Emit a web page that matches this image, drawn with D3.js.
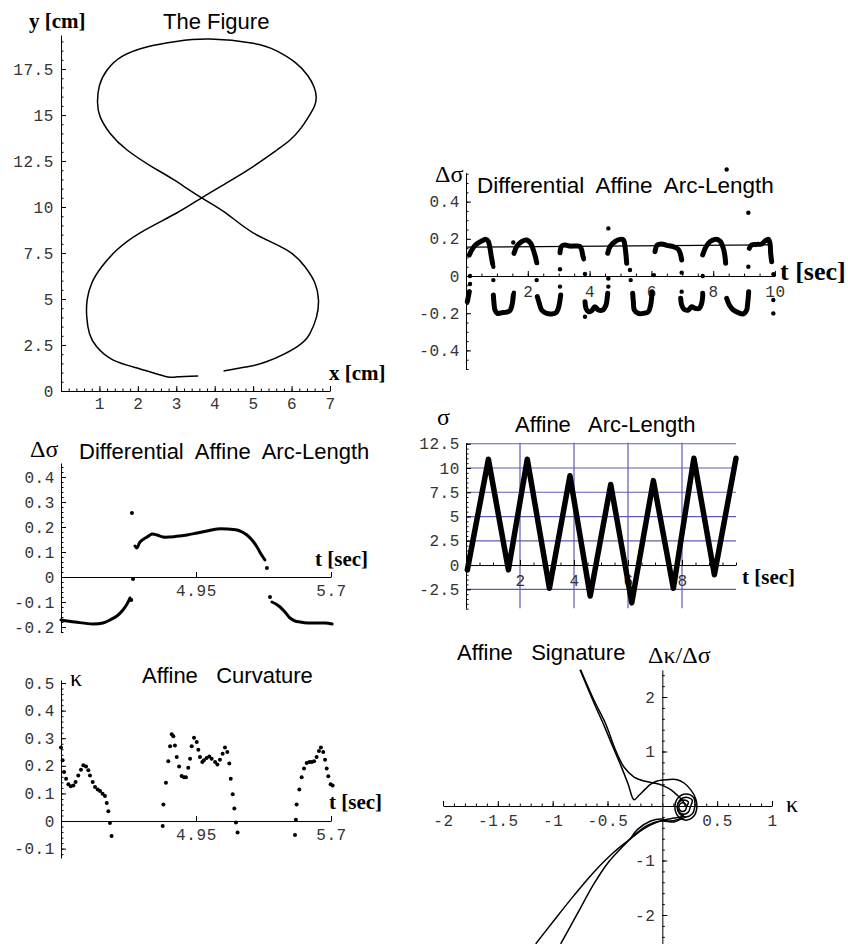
<!DOCTYPE html>
<html>
<head>
<meta charset="utf-8">
<script src="https://cdn.jsdelivr.net/npm/d3@7"></script>
<style>
  body { margin: 0; background: #fff; }
  svg { display: block; }
  .tick text { font-family: "Courier New", "Liberation Mono", monospace; font-size: 16px; letter-spacing: 0.6px; fill: #333; }
  .title { font-family: "Liberation Sans", Arial, sans-serif; font-size: 22px; white-space: pre; fill: #000; }
  .alabel { font-family: "Liberation Serif", "Times New Roman", serif; font-size: 21px; font-weight: bold; fill: #000; }
  .greek { font-family: "Liberation Serif", "Times New Roman", serif; font-size: 24px; fill: #000; }
</style>
</head>
<body>
<svg id="chart" width="848" height="944"></svg>
<script>
// ---------- The Figure: traced pen path (x, y in cm) ----------
const figurePath = [
  [3.57,0.82],[3.02,0.77],[2.75,0.78],[2.06,1.2],[1.36,1.68],[0.93,2.4],[0.74,3.13],[0.67,4.03],
  [0.68,4.95],[0.8,5.86],[1.06,6.75],[1.45,7.66],[2.06,8.6],[3.0,9.66],[3.66,10.5],[4.3,11.3],
  [5.0,12.2],[5.62,13.1],[5.96,13.64],[6.25,14.3],[6.47,15.0],[6.6,15.5],[6.64,16.0],[6.58,16.55],
  [6.42,17.15],[6.1,17.85],[5.6,18.5],[5.0,18.9],[3.88,19.13],[3.0,19.0],[2.23,18.7],[1.6,18.2],
  [1.2,17.45],[1.0,16.6],[0.95,15.7],[1.02,14.9],[1.28,14.0],[1.72,13.1],[2.36,12.2],[2.92,11.5],
  [3.66,10.5],[4.3,9.66],[5.0,8.6],[5.88,7.66],[6.35,6.75],[6.61,5.86],[6.7,4.95],[6.65,4.03],
  [6.48,3.13],[6.14,2.4],[5.36,1.6],[4.8,1.3],[4.23,1.09]
];
const figXTicks = [1,2,3,4,5,6,7];
const figYTicks = [0,2.5,5,7.5,10,12.5,15,17.5];

// ---------- Differential affine arc-length over the full recording (t sec, Δσ) ----------
const dsRunsUpper = [
  [[0.108,0.113],[0.216,0.149],[0.345,0.172],[0.507,0.188],[0.647,0.197],[0.723,0.185],[0.777,0.149],[0.82,0.104],[0.863,0.065]],
  [[1.553,0.122],[1.64,0.158],[1.80,0.185],[1.963,0.194],[2.093,0.176],[2.179,0.14],[2.244,0.104],[2.287,0.072]],
  [[3.042,0.125],[3.096,0.161],[3.204,0.167],[3.366,0.161],[3.527,0.161],[3.689,0.158],[3.743,0.14],[3.776,0.113],[3.797,0.1]],
  [[4.585,0.122],[4.66,0.158],[4.822,0.185],[4.984,0.197],[5.092,0.194],[5.146,0.158],[5.178,0.113],[5.2,0.068]],
  [[6.117,0.131],[6.192,0.167],[6.332,0.172],[6.494,0.165],[6.71,0.158],[6.872,0.143],[6.947,0.113],[6.98,0.086]],
  [[7.659,0.113],[7.767,0.158],[7.896,0.185],[8.058,0.197],[8.22,0.188],[8.328,0.149],[8.382,0.104],[8.403,0.068]],
  [[9.169,0.149],[9.245,0.167],[9.407,0.17],[9.568,0.172],[9.676,0.188],[9.784,0.197],[9.838,0.176],[9.86,0.122],[9.892,0.077]]
];
const dsRunsLower = [
  [[0.043,-0.138],[0.076,-0.111],[0.108,-0.084]],
  [[0.885,-0.102],[0.906,-0.147],[0.939,-0.183],[1.014,-0.201],[1.154,-0.197],[1.316,-0.194],[1.424,-0.186],[1.489,-0.156],[1.532,-0.102]],
  [[2.308,-0.111],[2.373,-0.147],[2.449,-0.183],[2.611,-0.201],[2.772,-0.204],[2.913,-0.197],[2.988,-0.174],[3.042,-0.129],[3.064,-0.102]],
  [[3.851,-0.138],[3.883,-0.174],[3.959,-0.192],[4.067,-0.186],[4.175,-0.165],[4.283,-0.183],[4.423,-0.183],[4.531,-0.156],[4.574,-0.111],[4.585,-0.093]],
  [[5.394,-0.093],[5.416,-0.138],[5.448,-0.183],[5.577,-0.201],[5.739,-0.201],[5.901,-0.192],[5.977,-0.156],[6.009,-0.111],[6.02,-0.084]],
  [[6.947,-0.12],[6.98,-0.156],[7.055,-0.179],[7.195,-0.183],[7.303,-0.165],[7.411,-0.174],[7.551,-0.174],[7.627,-0.147],[7.659,-0.111],[7.66,-0.093]],
  [[8.436,-0.12],[8.522,-0.156],[8.652,-0.183],[8.813,-0.197],[8.975,-0.204],[9.083,-0.183],[9.115,-0.147],[9.137,-0.111],[9.148,-0.084]]
];
const dsDots = [
  [0.885,0.05],[1.53,0.18],[2.3,0.07],[3.042,0.036],[3.85,0.011],[3.81,0.09],[4.606,0.256],[5.307,0.032],
  [4.606,-0.013],[6.98,0.018],[6.08,0.005],[8.436,0.573],[7.66,0.0],[9.137,0.34],[9.137,0.05],[0.13,-0.043],
  [0.13,0.0],[0.885,-0.022],[2.287,-0.022],[3.042,-0.057],[3.851,-0.219],[4.606,-0.057],[5.33,-0.022],
  [6.98,-0.084],[9.946,-0.129],[9.946,-0.201],[9.95,0.01],[1.55,-0.09]
];
const dsMeanT = [0, 9.9];
const dsMeanV = [0.155, 0.168];
const dsXTicks = [2,4,6,8,10];
const dsYTicks = [-0.4,-0.2,0,0.2,0.4];

// ---------- Differential affine arc-length, one stroke (t sec, Δσ) ----------
const daRunLeft = [[4.2,-0.172],[4.278,-0.18],[4.378,-0.188],[4.433,-0.184],[4.472,-0.172],[4.511,-0.156],[4.544,-0.132],[4.567,-0.108],[4.583,-0.084]];
const daRunMid = [[4.611,0.124],[4.622,0.116],[4.639,0.14],[4.678,0.16],[4.706,0.172],[4.733,0.168],[4.767,0.16],[4.806,0.16],[4.861,0.164],
  [4.9,0.168],[4.956,0.176],[5.011,0.184],[5.067,0.192],[5.122,0.192],[5.178,0.188],[5.206,0.18],[5.233,0.168],[5.261,0.148],
  [5.289,0.12],[5.311,0.092],[5.333,0.068]];
const daRunRight = [[5.372,-0.1],[5.394,-0.108],[5.417,-0.12],[5.444,-0.14],[5.472,-0.164],[5.5,-0.176],[5.528,-0.18],[5.572,-0.184],[5.622,-0.184],[5.667,-0.184],[5.706,-0.188]];
const daDots = [[4.6,-0.008],[4.594,0.256],[5.344,0.036],[5.361,-0.08],[4.59,-0.092]];
const daXTicks = [4.95,5.7];
const daYTicks = [-0.2,-0.1,0,0.1,0.2,0.3,0.4];

// ---------- Affine arc-length (t sec, σ) ----------
const sigmaT = [0.05,0.83,1.57,2.27,3.09,3.85,4.6,5.36,6.14,6.94,7.68,8.44,9.2,10.0];
const sigmaV = [-0.5,10.9,-0.5,10.9,-2.4,9.2,-3.2,8.3,-3.9,8.7,-2.4,11.0,-1.0,11.0];
const sigmaXTicks = [2,4,6,8];
const sigmaYTicks = [-2.5,0,2.5,5,7.5,10,12.5];
const sigmaGridX = [2,4,6,8];
const sigmaGridY = [-2.5,2.5,5,7.5,10,12.5];

// ---------- Affine curvature (t sec, κ) ----------
const curvPts = [
  [4.2,0.266],[4.209,0.22],[4.217,0.178],[4.228,0.153],[4.241,0.133],[4.254,0.126],[4.269,0.129],[4.281,0.141],
  [4.296,0.165],[4.311,0.186],[4.324,0.202],[4.339,0.198],[4.352,0.184],[4.361,0.165],[4.376,0.141],[4.389,0.123],
  [4.404,0.114],[4.417,0.109],[4.431,0.099],[4.444,0.091],[4.454,0.065],[4.463,0.035],[4.472,-0.007],[4.481,-0.054],
  [4.765,-0.018],[4.769,0.06],[4.783,0.139],[4.796,0.217],[4.806,0.271],[4.815,0.314],[4.824,0.307],[4.833,0.274],
  [4.843,0.232],[4.856,0.198],[4.87,0.163],[4.883,0.159],[4.894,0.159],[4.907,0.193],[4.917,0.226],[4.926,0.271],
  [4.939,0.302],[4.954,0.286],[4.963,0.258],[4.972,0.232],[4.985,0.214],[4.994,0.22],[5.009,0.228],[5.024,0.234],
  [5.037,0.226],[5.056,0.214],[5.069,0.205],[5.083,0.222],[5.098,0.244],[5.111,0.266],[5.124,0.25],[5.135,0.208],
  [5.143,0.153],[5.154,0.097],[5.163,0.045],[5.172,-0.005],[5.181,-0.042],
  [5.5,-0.051],[5.505,0.005],[5.509,0.06],[5.524,0.114],[5.537,0.159],[5.55,0.19],[5.565,0.21],[5.58,0.214],
  [5.593,0.214],[5.606,0.217],[5.62,0.232],[5.633,0.254],[5.644,0.266],[5.657,0.25],[5.667,0.222],[5.676,0.19],
  [5.685,0.162],[5.698,0.133],[5.709,0.129]
];
const curvXTicks = [4.95,5.7];
const curvYTicks = [-0.1,0,0.1,0.2,0.3,0.4,0.5];

// ---------- Affine signature (κ, Δκ/Δσ) ----------
const sigUpperOuter = [[-0.751,2.5],[-0.684,2.18],[-0.608,1.82],[-0.532,1.48],[-0.456,1.11],[-0.38,0.75],[-0.313,0.41],
  [-0.258,0.116],[-0.213,0.196],[-0.161,0.3],[-0.106,0.4],[-0.046,0.459],[0.046,0.483],[0.137,0.483],[0.198,0.422],
  [0.258,0.3],[0.304,0.135]];
const sigUpperInner = [[-0.745,2.5],[-0.623,1.94],[-0.517,1.51],[-0.426,1.02],[-0.35,0.716],[-0.258,0.532],[-0.167,0.459],
  [-0.076,0.422],[0,0.379],[0.076,0.3],[0.137,0.196],[0.182,0.104],[0.2,0.05]];
const sigLowerA = [[-1.155,-2.53],[-0.988,-2.1],[-0.805,-1.64],[-0.623,-1.21],[-0.44,-0.844],[-0.289,-0.6],[-0.167,-0.416],
  [-0.046,-0.294],[0.076,-0.232],[0.167,-0.2],[0.2,-0.15]];
const sigLowerB = [[-0.927,-2.53],[-0.775,-1.976],[-0.623,-1.425],[-0.502,-1.058],[-0.38,-0.783],[-0.258,-0.538],[-0.137,-0.355],
  [-0.015,-0.275],[0.106,-0.294],[0.17,-0.24],[0.22,-0.2]];
const sigLowerC = [[-0.289,-0.6],[-0.228,-0.434],[-0.106,-0.275],[0.0,-0.24],[0.046,-0.275],[0.137,-0.25],[0.19,-0.19]];
const sigSpiral = [
  [0.315,-0.02],[0.286,-0.19],[0.215,-0.26],[0.144,-0.19],[0.115,-0.02],[0.144,0.15],[0.215,0.22],[0.286,0.15],
  [0.295,-0.02],[0.272,-0.147],[0.215,-0.2],[0.158,-0.147],[0.135,-0.02],[0.158,0.107],[0.215,0.16],[0.272,0.107],
  [0.255,-0.02],[0.237,-0.112],[0.195,-0.15],[0.153,-0.112],[0.135,-0.02],[0.153,0.072],[0.195,0.11],[0.237,0.072],
  [0.22,-0.02],[0.21,-0.077],[0.185,-0.1],[0.16,-0.077],[0.15,-0.02],[0.16,0.037],[0.185,0.06],[0.21,0.037],[0.22,-0.02]
];
const sigXTicks = [-2,-1.5,-1,-0.5,0.5,1];
const sigYTicks = [-2,-1,1,2];

// ---------- drawing helpers ----------
const svg = d3.select("#chart");
const fmt = d => String(d);
const steps = (a, b, s) => d3.range(Math.round((b - a) / s) + 1).map(i => +(a + i * s).toFixed(6));

function makePanel(xDomain, xRange, yDomain, yRange) {
  const g = svg.append("g");
  return {
    g,
    x: d3.scaleLinear().domain(xDomain).range(xRange),
    y: d3.scaleLinear().domain(yDomain).range(yRange)
  };
}

function drawAxes(p, o) {
  const { g, x, y } = p;
  const yAt = o.yAxisAt !== undefined ? o.yAxisAt : x.domain()[0];
  const ax = g.append("g").attr("class", "axes");
  if (o.xMinor) {
    ax.append("g").attr("transform", `translate(0,${y(0)})`)
      .call(d3.axisBottom(x).tickValues(o.xMinor).tickFormat("").tickSizeInner(-2.5).tickSizeOuter(0))
      .call(s => s.select(".domain").remove());
  }
  if (o.yMinor) {
    ax.append("g").attr("transform", `translate(${x(yAt)},0)`)
      .call(d3.axisLeft(y).tickValues(o.yMinor).tickFormat("").tickSizeInner(-2.5).tickSizeOuter(0))
      .call(s => s.select(".domain").remove());
  }
  ax.append("g").attr("transform", `translate(0,${y(0)})`)
    .call(d3.axisBottom(x).tickValues(o.xTicks).tickFormat(fmt).tickSizeInner(-5).tickSizeOuter(0).tickPadding(o.xPad || 8));
  ax.append("g").attr("transform", `translate(${x(yAt)},0)`)
    .call(d3.axisLeft(y).tickValues(o.yTicks).tickFormat(fmt).tickSizeInner(-5).tickSizeOuter(0).tickPadding(o.yPad || 6));
  ax.selectAll("g").attr("font-family", null).attr("font-size", null);
  ax.selectAll(".domain, .tick line").attr("stroke", "#000").attr("stroke-width", 1);
}

function text(cls, x, y, s, size) {
  const t = svg.append("text").attr("class", cls).attr("x", x).attr("y", y).text(s);
  if (size) t.style("font-size", size + "px");
}

// ---------- The Figure ----------
{
  const p = makePanel([0, 7], [61, 330], [0, 19.35], [391, 35]);
  drawAxes(p, { xTicks: figXTicks, yTicks: figYTicks, xMinor: steps(0, 7, 0.2), yMinor: steps(0, 19, 0.5), xPad: 7, yPad: 7 });
  p.g.append("path")
    .attr("d", d3.line().x(d => p.x(d[0])).y(d => p.y(d[1])).curve(d3.curveNatural)(figurePath))
    .attr("fill", "none").attr("stroke", "#000").attr("stroke-width", 1.5);
  text("alabel", 29, 28, "y [cm]");
  text("title", 163, 29, "The Figure");
  text("alabel", 329, 380, "x [cm]");
}

// ---------- Differential affine arc-length, full recording ----------
{
  const p = makePanel([0, 10], [466, 775], [-0.5, 0.555], [369, 172.8]);
  drawAxes(p, { xTicks: dsXTicks, yTicks: dsYTicks, xMinor: steps(0, 10, 0.5), yMinor: steps(-0.5, 0.55, 0.05), xPad: 10, yPad: 6 });
  const line = d3.line().x(d => p.x(d[0])).y(d => p.y(d[1])).curve(d3.curveCatmullRom.alpha(0.5));
  p.g.append("path")
    .attr("d", d3.line()(dsMeanT.map((t, i) => [p.x(t), p.y(dsMeanV[i])])))
    .attr("stroke", "#000").attr("stroke-width", 1.3).attr("fill", "none");
  p.g.selectAll("path.run").data(dsRunsUpper.concat(dsRunsLower)).join("path").attr("class", "run")
    .attr("d", line).attr("fill", "none").attr("stroke", "#000")
    .attr("stroke-width", 5).attr("stroke-linecap", "round").attr("stroke-linejoin", "round");
  p.g.selectAll("circle").data(dsDots).join("circle")
    .attr("cx", d => p.x(d[0])).attr("cy", d => p.y(d[1])).attr("r", 2.2).attr("fill", "#000");
  text("greek", 435, 182, "Δσ");
  text("title", 477, 193, "Differential  Affine  Arc-Length", 22.5);
  text("alabel", 780, 280, "t [sec]", 26);
}

// ---------- Differential affine arc-length, one stroke ----------
{
  const p = makePanel([4.2, 5.7], [61, 331], [-0.22, 0.456], [632, 463]);
  drawAxes(p, { xTicks: daXTicks, yTicks: daYTicks, yMinor: steps(-0.22, 0.44, 0.02), xPad: 8, yPad: 6 });
  const line = d3.line().x(d => p.x(d[0])).y(d => p.y(d[1])).curve(d3.curveCatmullRom.alpha(0.5));
  p.g.selectAll("path.run").data([daRunLeft, daRunMid, daRunRight]).join("path").attr("class", "run")
    .attr("d", line).attr("fill", "none").attr("stroke", "#000")
    .attr("stroke-width", 3).attr("stroke-linecap", "round").attr("stroke-linejoin", "round");
  p.g.selectAll("circle").data(daDots).join("circle")
    .attr("cx", d => p.x(d[0])).attr("cy", d => p.y(d[1])).attr("r", 2).attr("fill", "#000");
  text("greek", 30, 457, "Δσ");
  text("title", 79, 459, "Differential  Affine  Arc-Length");
  text("alabel", 315, 566, "t [sec]");
}

// ---------- Affine arc-length ----------
{
  const p = makePanel([0, 10], [466, 736], [-4.45, 12.6], [608.2, 442.8]);
  const grid = p.g.append("g").attr("stroke", "#5c5cb4").attr("stroke-width", 1.2);
  grid.selectAll("line.h").data(sigmaGridY).join("line").attr("class", "h")
    .attr("x1", p.x(0)).attr("x2", p.x(10)).attr("y1", d => p.y(d)).attr("y2", d => p.y(d));
  grid.selectAll("line.v").data(sigmaGridX).join("line").attr("class", "v")
    .attr("x1", d => p.x(d)).attr("x2", d => p.x(d)).attr("y1", p.y(-4.45)).attr("y2", p.y(12.6));
  drawAxes(p, { xTicks: sigmaXTicks, yTicks: sigmaYTicks, xMinor: steps(0, 10, 0.5), yMinor: steps(-4.5, 12.5, 0.5), xPad: 10, yPad: 6 });
  p.g.append("path")
    .attr("d", d3.line().x(d => p.x(d[0])).y(d => p.y(d[1]))(sigmaT.map((t, i) => [t, sigmaV[i]])))
    .attr("fill", "none").attr("stroke", "#000").attr("stroke-width", 5.5)
    .attr("stroke-linejoin", "round").attr("stroke-linecap", "round");
  text("greek", 437, 425, "σ");
  text("title", 515, 432, "Affine   Arc-Length");
  text("alabel", 742, 584, "t [sec]");
}

// ---------- Affine curvature ----------
{
  const p = makePanel([4.2, 5.7], [61, 331], [-0.134, 0.511], [858, 680]);
  drawAxes(p, { xTicks: curvXTicks, yTicks: curvYTicks, yMinor: steps(-0.12, 0.5, 0.02), xPad: 8, yPad: 6 });
  p.g.selectAll("circle").data(curvPts).join("circle")
    .attr("cx", d => p.x(d[0])).attr("cy", d => p.y(d[1])).attr("r", 2).attr("fill", "#000");
  text("greek", 70, 686, "κ");
  text("title", 142, 683, "Affine   Curvature");
  text("alabel", 329, 809, "t [sec]");
}

// ---------- Affine signature ----------
{
  const p = makePanel([-2, 1], [443, 772], [-2.53, 2.5], [943.9, 669.75]);
  drawAxes(p, { yAxisAt: 0, xTicks: sigXTicks, yTicks: sigYTicks, xMinor: steps(-2, 1, 0.1), yMinor: steps(-2.4, 2.4, 0.2), xPad: 9, yPad: 7 });
  const line = d3.line().x(d => p.x(d[0])).y(d => p.y(d[1])).curve(d3.curveCatmullRom.alpha(0.5));
  const curves = [sigUpperOuter.concat(sigSpiral), sigUpperInner, sigLowerA, sigLowerB, sigLowerC];
  p.g.selectAll("path.sig").data(curves).join("path").attr("class", "sig")
    .attr("d", line).attr("fill", "none").attr("stroke", "#000").attr("stroke-width", 1.5);
  text("title", 457, 660, "Affine   Signature");
  text("greek", 648, 663, "Δκ/Δσ");
  text("greek", 786, 812, "κ");
}
</script>
</body>
</html>
